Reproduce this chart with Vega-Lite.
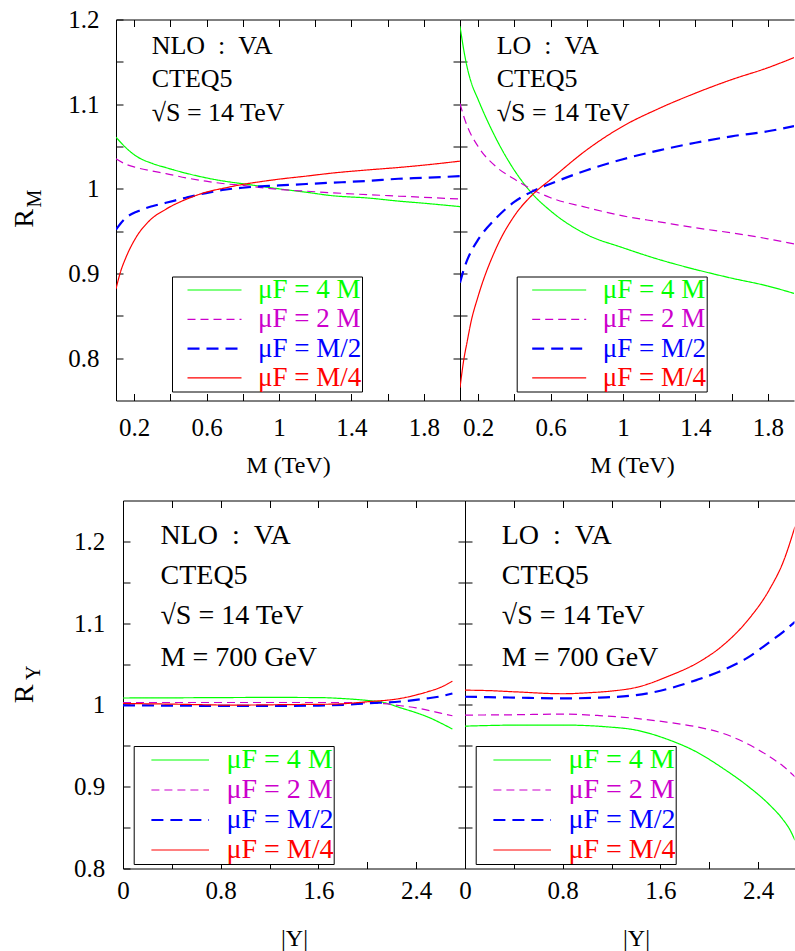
{
 "$schema": "https://vega.github.io/schema/vega-lite/v6.json",
 "padding": {"left": 10, "top": 7.5, "right": 0, "bottom": 0},
 "background": "white",
 "config": {
  "view": {"stroke": null},
  "style": {"guide-label": {"font": "Liberation Serif"}, "guide-title": {"font": "Liberation Serif"}},
  "axis": {"domainColor": "black", "domainWidth": 1, "tickColor": "black", "tickWidth": 1, "tickSize": -7, "grid": false,
   "labelFont": "Liberation Serif", "labelColor": "black", "labelFontSize": 25, "titleFont": "Liberation Serif", "titleColor": "black",
   "titleFontWeight": "normal", "titleFontSize": 24, "labelFlush": false, "labelOverlap": false, "labelBound": false},
  "legend": {"orient": "none", "symbolSize": 784, "labelFont": "Liberation Serif",
   "labelLimit": 0, "padding": 0, "strokeColor": "black", "fillColor": "white", "cornerRadius": 0, "symbolOpacity": 1},
  "text": {"font": "Liberation Serif", "color": "black"}
 },
 "datasets": {
  "nloM": [
   {"s":"4M","x":0.1,"y":1.061},{"s":"4M","x":0.155,"y":1.0485},{"s":"4M","x":0.209,"y":1.039},{"s":"4M","x":0.3,"y":1.03},{"s":"4M","x":0.376,"y":1.025},{"s":"4M","x":0.486,"y":1.0185},{"s":"4M","x":0.597,"y":1.013},{"s":"4M","x":0.7,"y":1.009},{"s":"4M","x":0.8,"y":1.006},{"s":"4M","x":0.9,"y":1.003},{"s":"4M","x":1.0,"y":1.0},{"s":"4M","x":1.15,"y":0.996},{"s":"4M","x":1.29,"y":0.992},{"s":"4M","x":1.5,"y":0.989},{"s":"4M","x":1.66,"y":0.9855},{"s":"4M","x":1.8,"y":0.983},{"s":"4M","x":2.0,"y":0.979},
   {"s":"2M","x":0.1,"y":1.0355},{"s":"2M","x":0.155,"y":1.029},{"s":"2M","x":0.214,"y":1.025},{"s":"2M","x":0.3,"y":1.021},{"s":"2M","x":0.376,"y":1.018},{"s":"2M","x":0.486,"y":1.013},{"s":"2M","x":0.597,"y":1.009},{"s":"2M","x":0.7,"y":1.006},{"s":"2M","x":0.8,"y":1.004},{"s":"2M","x":0.9,"y":1.0015},{"s":"2M","x":1.0,"y":0.9993},{"s":"2M","x":1.15,"y":0.9972},{"s":"2M","x":1.29,"y":0.9954},{"s":"2M","x":1.5,"y":0.993},{"s":"2M","x":1.66,"y":0.9914},{"s":"2M","x":1.8,"y":0.99},{"s":"2M","x":2.0,"y":0.988},
   {"s":"M/2","x":0.1,"y":0.952},{"s":"M/2","x":0.155,"y":0.9658},{"s":"M/2","x":0.22,"y":0.9735},{"s":"M/2","x":0.3,"y":0.9795},{"s":"M/2","x":0.376,"y":0.9835},{"s":"M/2","x":0.486,"y":0.9895},{"s":"M/2","x":0.597,"y":0.995},{"s":"M/2","x":0.7,"y":0.999},{"s":"M/2","x":0.8,"y":1.0013},{"s":"M/2","x":0.9,"y":1.003},{"s":"M/2","x":1.0,"y":1.004},{"s":"M/2","x":1.15,"y":1.0057},{"s":"M/2","x":1.29,"y":1.0072},{"s":"M/2","x":1.5,"y":1.0095},{"s":"M/2","x":1.66,"y":1.0119},{"s":"M/2","x":1.8,"y":1.013},{"s":"M/2","x":2.0,"y":1.015},
   {"s":"M/4","x":0.1,"y":0.882},{"s":"M/4","x":0.125,"y":0.902},{"s":"M/4","x":0.155,"y":0.919},{"s":"M/4","x":0.209,"y":0.942},{"s":"M/4","x":0.283,"y":0.962},{"s":"M/4","x":0.376,"y":0.976},{"s":"M/4","x":0.486,"y":0.9875},{"s":"M/4","x":0.597,"y":0.996},{"s":"M/4","x":0.7,"y":1.001},{"s":"M/4","x":0.8,"y":1.0052},{"s":"M/4","x":0.9,"y":1.0085},{"s":"M/4","x":1.0,"y":1.0114},{"s":"M/4","x":1.15,"y":1.015},{"s":"M/4","x":1.29,"y":1.0185},{"s":"M/4","x":1.5,"y":1.0225},{"s":"M/4","x":1.66,"y":1.0252},{"s":"M/4","x":1.8,"y":1.028},{"s":"M/4","x":2.0,"y":1.0327}
  ],
  "loM": [
   {"s":"4M","x":0.1,"y":1.192},{"s":"4M","x":0.12,"y":1.165},{"s":"4M","x":0.14,"y":1.143},{"s":"4M","x":0.16,"y":1.127},{"s":"4M","x":0.2,"y":1.1055},{"s":"4M","x":0.3,"y":1.059},{"s":"4M","x":0.4,"y":1.022},{"s":"4M","x":0.5,"y":0.994},{"s":"4M","x":0.6,"y":0.974},{"s":"4M","x":0.8,"y":0.946},{"s":"4M","x":1.0,"y":0.9304},{"s":"4M","x":1.2,"y":0.9165},{"s":"4M","x":1.4,"y":0.9048},{"s":"4M","x":1.6,"y":0.8945},{"s":"4M","x":1.8,"y":0.8852},{"s":"4M","x":1.945,"y":0.8765},
   {"s":"2M","x":0.1,"y":1.1008},{"s":"2M","x":0.12,"y":1.086},{"s":"2M","x":0.14,"y":1.074},{"s":"2M","x":0.2,"y":1.05},{"s":"2M","x":0.3,"y":1.026},{"s":"2M","x":0.4,"y":1.0115},{"s":"2M","x":0.5,"y":0.999},{"s":"2M","x":0.6,"y":0.9895},{"s":"2M","x":0.8,"y":0.978},{"s":"2M","x":1.0,"y":0.968},{"s":"2M","x":1.2,"y":0.961},{"s":"2M","x":1.4,"y":0.954},{"s":"2M","x":1.6,"y":0.948},{"s":"2M","x":1.8,"y":0.941},{"s":"2M","x":1.945,"y":0.935},
   {"s":"M/2","x":0.1,"y":0.889},{"s":"M/2","x":0.12,"y":0.904},{"s":"M/2","x":0.14,"y":0.916},{"s":"M/2","x":0.16,"y":0.9255},{"s":"M/2","x":0.2,"y":0.94},{"s":"M/2","x":0.3,"y":0.9655},{"s":"M/2","x":0.4,"y":0.9845},{"s":"M/2","x":0.5,"y":0.997},{"s":"M/2","x":0.6,"y":1.006},{"s":"M/2","x":0.8,"y":1.022},{"s":"M/2","x":1.0,"y":1.035},{"s":"M/2","x":1.2,"y":1.0455},{"s":"M/2","x":1.4,"y":1.0544},{"s":"M/2","x":1.6,"y":1.062},{"s":"M/2","x":1.8,"y":1.068},{"s":"M/2","x":1.945,"y":1.074},
   {"s":"M/4","x":0.1,"y":0.765},{"s":"M/4","x":0.12,"y":0.797},{"s":"M/4","x":0.14,"y":0.82},{"s":"M/4","x":0.16,"y":0.842},{"s":"M/4","x":0.2,"y":0.873},{"s":"M/4","x":0.3,"y":0.93},{"s":"M/4","x":0.4,"y":0.968},{"s":"M/4","x":0.5,"y":0.993},{"s":"M/4","x":0.6,"y":1.011},{"s":"M/4","x":0.8,"y":1.046},{"s":"M/4","x":1.0,"y":1.074},{"s":"M/4","x":1.2,"y":1.095},{"s":"M/4","x":1.4,"y":1.113},{"s":"M/4","x":1.6,"y":1.129},{"s":"M/4","x":1.8,"y":1.143},{"s":"M/4","x":1.945,"y":1.155}
  ],
  "nloY": [
   {"s":"4M","x":0,"y":1.0085},{"s":"4M","x":0.4,"y":1.0087},{"s":"4M","x":0.8,"y":1.009},{"s":"4M","x":1.2,"y":1.0092},{"s":"4M","x":1.6,"y":1.009},{"s":"4M","x":1.8,"y":1.0078},{"s":"4M","x":2.0,"y":1.0055},{"s":"4M","x":2.135,"y":1.003},{"s":"4M","x":2.272,"y":0.9965},{"s":"4M","x":2.4,"y":0.9905},{"s":"4M","x":2.5,"y":0.985},{"s":"4M","x":2.6,"y":0.978},{"s":"4M","x":2.697,"y":0.9705},
   {"s":"2M","x":0,"y":1.003},{"s":"2M","x":0.8,"y":1.003},{"s":"2M","x":1.6,"y":1.003},{"s":"2M","x":1.9,"y":1.0028},{"s":"2M","x":2.135,"y":1.0015},{"s":"2M","x":2.272,"y":0.999},{"s":"2M","x":2.4,"y":0.9965},{"s":"2M","x":2.491,"y":0.9937},{"s":"2M","x":2.6,"y":0.99},{"s":"2M","x":2.697,"y":0.9868},
   {"s":"M/2","x":0,"y":0.9995},{"s":"M/2","x":0.4,"y":0.9992},{"s":"M/2","x":0.8,"y":0.9988},{"s":"M/2","x":1.2,"y":0.9988},{"s":"M/2","x":1.6,"y":0.9992},{"s":"M/2","x":1.8,"y":1.0002},{"s":"M/2","x":2.0,"y":1.002},{"s":"M/2","x":2.272,"y":1.0042},{"s":"M/2","x":2.491,"y":1.008},{"s":"M/2","x":2.6,"y":1.0105},{"s":"M/2","x":2.697,"y":1.014},
   {"s":"M/4","x":0,"y":1.0018},{"s":"M/4","x":0.4,"y":1.001},{"s":"M/4","x":0.9,"y":0.9998},{"s":"M/4","x":1.4,"y":1.0005},{"s":"M/4","x":1.724,"y":1.001},{"s":"M/4","x":2.0,"y":1.0039},{"s":"M/4","x":2.272,"y":1.008},{"s":"M/4","x":2.491,"y":1.016},{"s":"M/4","x":2.6,"y":1.0215},{"s":"M/4","x":2.697,"y":1.029}
  ],
  "loY": [
   {"s":"4M","x":0,"y":0.9741},{"s":"4M","x":0.471,"y":0.9754},{"s":"4M","x":0.8,"y":0.9754},{"s":"4M","x":1.155,"y":0.9733},{"s":"4M","x":1.401,"y":0.9692},{"s":"4M","x":1.675,"y":0.957},{"s":"4M","x":1.894,"y":0.9427},{"s":"4M","x":2.113,"y":0.9224},{"s":"4M","x":2.305,"y":0.902},{"s":"4M","x":2.496,"y":0.8775},{"s":"4M","x":2.6,"y":0.8605},{"s":"4M","x":2.66,"y":0.8475},{"s":"4M","x":2.702,"y":0.8345},
   {"s":"2M","x":0,"y":0.9876},{"s":"2M","x":0.4,"y":0.988},{"s":"2M","x":0.8,"y":0.9888},{"s":"2M","x":1.1,"y":0.987},{"s":"2M","x":1.401,"y":0.9835},{"s":"2M","x":1.65,"y":0.979},{"s":"2M","x":1.894,"y":0.9733},{"s":"2M","x":2.113,"y":0.9652},{"s":"2M","x":2.305,"y":0.953},{"s":"2M","x":2.496,"y":0.9366},{"s":"2M","x":2.606,"y":0.925},{"s":"2M","x":2.702,"y":0.9122},
   {"s":"M/2","x":0,"y":1.01},{"s":"M/2","x":0.4,"y":1.009},{"s":"M/2","x":0.8,"y":1.008},{"s":"M/2","x":1.1,"y":1.009},{"s":"M/2","x":1.401,"y":1.012},{"s":"M/2","x":1.675,"y":1.0202},{"s":"M/2","x":1.894,"y":1.0304},{"s":"M/2","x":2.113,"y":1.0426},{"s":"M/2","x":2.305,"y":1.0569},{"s":"M/2","x":2.496,"y":1.0772},{"s":"M/2","x":2.606,"y":1.0894},{"s":"M/2","x":2.702,"y":1.1017},
   {"s":"M/4","x":0,"y":1.0181},{"s":"M/4","x":0.2,"y":1.0175},{"s":"M/4","x":0.416,"y":1.016},{"s":"M/4","x":0.8,"y":1.0137},{"s":"M/4","x":1.018,"y":1.015},{"s":"M/4","x":1.2,"y":1.017},{"s":"M/4","x":1.401,"y":1.0214},{"s":"M/4","x":1.675,"y":1.0357},{"s":"M/4","x":1.894,"y":1.0507},{"s":"M/4","x":2.113,"y":1.073},{"s":"M/4","x":2.305,"y":1.1017},{"s":"M/4","x":2.496,"y":1.142},{"s":"M/4","x":2.606,"y":1.175},{"s":"M/4","x":2.702,"y":1.218}
  ]
 },
 "spacing": 20,
 "resolve": {"scale": {"color": "independent", "strokeDash": "independent"}, "legend": {"color": "independent", "strokeDash": "independent"}},
 "vconcat": [
  {
   "spacing": 0,
   "bounds": "flush",
   "resolve": {"scale": {"color": "independent", "strokeDash": "independent"}, "legend": {"color": "independent", "strokeDash": "independent"}},
   "hconcat": [
    {"width": 1, "height": 1, "data": {"values": [{"a": 0}]}, "mark": {"type": "point", "opacity": 0}, "encoding": {}},
    {
     "width": 344, "height": 381,
     "data": {"name": "nloM"},
     "layer": [
      {"mark": {"type": "line", "clip": true, "interpolate": "monotone"},
       "encoding": {
        "x": {"field": "x", "type": "quantitative", "scale": {"domain": [0.1, 2.0], "nice": false, "zero": false},
         "axis": {"orient": "bottom", "values": [0.2,0.4,0.6,0.8,1,1.2,1.4,1.6,1.8], "format": "~g", "labelExpr": "round(datum.value*10)%4==2 ? datum.label : ''", "labelBaseline": "alphabetic", "labelPadding": 41.7, "title": "M (TeV)", "titleX": 172, "titleY": 72, "titleBaseline": "alphabetic", "titleAlign": "center"}},
        "y": {"field": "y", "type": "quantitative", "scale": {"domain": [0.75, 1.2], "nice": false, "zero": false},
         "axis": {"orient": "left", "values": [0.8,0.85,0.9,0.95,1,1.05,1.1,1.15,1.2], "format": "~g", "labelExpr": "round(datum.value*20)%2==0 ? datum.label : ''", "labelPadding": 24, "title": "R", "titleX": -84, "titleY": 198.5, "titleAngle": 270, "titleBaseline": "alphabetic", "titleAlign": "center", "titleFontSize": 28}},
        "color": {"field": "s", "type": "nominal", "scale": {"domain": ["4M","2M","M/2","M/4"], "range": ["#00ff00","#cc00cc","#0000ff","#ff0000"]},
         "legend": {"title": null, "legendX": 56, "legendY": 257, "symbolType": "M0.143,0H4", "labelOffset": 59, "labelFont": "Liberation Serif", "labelFontSize": 27, "rowPadding": 1.3, "labelExpr": "datum.value == '4M' ? 'μF = 4 M' : datum.value == '2M' ? 'μF = 2 M' : datum.value == 'M/2' ? 'μF = M/2' : 'μF = M/4'", "labelColor": {"expr": "datum.value == '4M' ? '#00ff00' : datum.value == '2M' ? '#cc00cc' : datum.value == 'M/2' ? '#0000ff' : '#ff0000'"}, "symbolStrokeWidth": {"expr": "datum.value == 'M/2' ? 2.2 : 1.2"}}},
        "strokeDash": {"field": "s", "type": "nominal", "scale": {"domain": ["4M","2M","M/2","M/4"], "range": [[1,0],[8,5],[12,7],[1,0]]}, "legend": {"title": null, "legendX": 56, "legendY": 257}},
        "strokeWidth": {"condition": {"test": "datum.s == 'M/2'", "value": 2.2}, "value": 1.2}
       }},
      {"mark": {"type": "point", "opacity": 0},
       "encoding": {
        "x": {"field": "x", "type": "quantitative", "axis": {"orient": "top", "values": [0.2,0.4,0.6,0.8,1,1.2,1.4,1.6,1.8], "labels": false, "title": null}},
        "y": {"field": "y", "type": "quantitative", "axis": {"orient": "right", "values": [0.8,0.85,0.9,0.95,1,1.05,1.1,1.15], "labels": false, "title": "M", "titleX": -420, "titleY": 178.5, "titleAngle": 270, "titleBaseline": "alphabetic", "titleAlign": "center", "titleFontSize": 20}}
       }},
      {"data": {"values": [{"x": 0.297, "y": 1.1598, "t": "NLO\u00a0\u00a0:\u00a0\u00a0VA"}, {"x": 0.297, "y": 1.1197, "t": "CTEQ5"}, {"x": 0.297, "y": 1.0799, "t": "√S = 14 TeV"}]},
       "mark": {"type": "text", "align": "left", "baseline": "alphabetic", "fontSize": 26, "font": "Liberation Serif"},
       "encoding": {"x": {"field": "x", "type": "quantitative", "axis": null}, "y": {"field": "y", "type": "quantitative", "axis": null}, "text": {"field": "t"}}}
     ],
     "resolve": {"axis": {"x": "independent", "y": "independent"}}
    },
    {
     "width": 334, "height": 381,
     "data": {"name": "loM"},
     "layer": [
      {"mark": {"type": "line", "clip": true, "interpolate": "monotone"},
       "encoding": {
        "x": {"field": "x", "type": "quantitative", "scale": {"domain": [0.1, 1.9448], "nice": false, "zero": false},
         "axis": {"orient": "bottom", "values": [0.2,0.4,0.6,0.8,1,1.2,1.4,1.6,1.8], "format": "~g", "labelExpr": "round(datum.value*10)%4==2 ? datum.label : ''", "labelBaseline": "alphabetic", "labelPadding": 41.7, "title": "M (TeV)", "titleX": 172, "titleY": 72, "titleBaseline": "alphabetic", "titleAlign": "center"}},
        "y": {"field": "y", "type": "quantitative", "scale": {"domain": [0.75, 1.2], "nice": false, "zero": false},
         "axis": {"orient": "left", "values": [0.8,0.85,0.9,0.95,1,1.05,1.1,1.15], "labels": false, "title": null}},
        "color": {"field": "s", "type": "nominal", "scale": {"domain": ["4M","2M","M/2","M/4"], "range": ["#00ff00","#cc00cc","#0000ff","#ff0000"]},
         "legend": {"title": null, "legendX": 56.7, "legendY": 257, "symbolType": "M0.143,0H4", "labelOffset": 59, "labelFont": "Liberation Serif", "labelFontSize": 27, "rowPadding": 1.3, "labelExpr": "datum.value == '4M' ? 'μF = 4 M' : datum.value == '2M' ? 'μF = 2 M' : datum.value == 'M/2' ? 'μF = M/2' : 'μF = M/4'", "labelColor": {"expr": "datum.value == '4M' ? '#00ff00' : datum.value == '2M' ? '#cc00cc' : datum.value == 'M/2' ? '#0000ff' : '#ff0000'"}, "symbolStrokeWidth": {"expr": "datum.value == 'M/2' ? 2.2 : 1.2"}}},
        "strokeDash": {"field": "s", "type": "nominal", "scale": {"domain": ["4M","2M","M/2","M/4"], "range": [[1,0],[8,5],[12,7],[1,0]]}, "legend": {"title": null, "legendX": 56.7, "legendY": 257}},
        "strokeWidth": {"condition": {"test": "datum.s == 'M/2'", "value": 2.2}, "value": 1.2}
       }},
      {"mark": {"type": "point", "opacity": 0},
       "encoding": {
        "x": {"field": "x", "type": "quantitative", "axis": {"orient": "top", "values": [0.2,0.4,0.6,0.8,1,1.2,1.4,1.6,1.8], "labels": false, "title": null}},
        "y": {"field": "y", "type": "quantitative", "axis": null}
       }},
      {"data": {"values": [{"x": 0.3027, "y": 1.1598, "t": "LO\u00a0\u00a0:\u00a0\u00a0VA"}, {"x": 0.3027, "y": 1.1197, "t": "CTEQ5"}, {"x": 0.3027, "y": 1.0799, "t": "√S = 14 TeV"}]},
       "mark": {"type": "text", "align": "left", "baseline": "alphabetic", "fontSize": 26, "font": "Liberation Serif"},
       "encoding": {"x": {"field": "x", "type": "quantitative", "axis": null}, "y": {"field": "y", "type": "quantitative", "axis": null}, "text": {"field": "t"}}}
     ],
     "resolve": {"axis": {"x": "independent", "y": "independent"}}
    }
   ]
  },
  {
   "spacing": 0,
   "bounds": "flush",
   "resolve": {"scale": {"color": "independent", "strokeDash": "independent"}, "legend": {"color": "independent", "strokeDash": "independent"}},
   "hconcat": [
    {"width": 7.3, "height": 1, "data": {"values": [{"a": 0}]}, "mark": {"type": "point", "opacity": 0}, "encoding": {}},
    {
     "width": 342, "height": 368,
     "data": {"name": "nloY"},
     "layer": [
      {"mark": {"type": "line", "clip": true, "interpolate": "monotone"},
       "encoding": {
        "x": {"field": "x", "type": "quantitative", "scale": {"domain": [0, 2.8], "nice": false, "zero": false},
         "axis": {"orient": "bottom", "values": [0,0.4,0.8,1.2,1.6,2,2.4], "format": "~g", "labelExpr": "round(datum.value*10)%8==0 ? datum.label : ''", "labelBaseline": "alphabetic", "labelPadding": 37, "title": "|Y|", "titleX": 171, "titleY": 77, "titleBaseline": "alphabetic", "titleAlign": "center"}},
        "y": {"field": "y", "type": "quantitative", "scale": {"domain": [0.8, 1.25], "nice": false, "zero": false},
         "axis": {"orient": "left", "values": [0.8,0.85,0.9,0.95,1,1.05,1.1,1.15,1.2], "format": "~g", "labelExpr": "round(datum.value*20)%2==0 ? datum.label : ''", "labelPadding": 25.3, "title": "R", "titleX": -90.3, "titleY": 192.8, "titleAngle": 270, "titleBaseline": "alphabetic", "titleAlign": "center", "titleFontSize": 28}},
        "color": {"field": "s", "type": "nominal", "scale": {"domain": ["4M","2M","M/2","M/4"], "range": ["#00ff00","#cc00cc","#0000ff","#ff0000"]},
         "legend": {"title": null, "legendX": 10.7, "legendY": 245.5, "symbolType": "M0.264,0H4.38", "labelOffset": 64.7, "labelFont": "Liberation Serif", "labelFontSize": 28, "rowPadding": 2, "labelExpr": "datum.value == '4M' ? 'μF = 4 M' : datum.value == '2M' ? 'μF = 2 M' : datum.value == 'M/2' ? 'μF = M/2' : 'μF = M/4'", "labelColor": {"expr": "datum.value == '4M' ? '#00ff00' : datum.value == '2M' ? '#cc00cc' : datum.value == 'M/2' ? '#0000ff' : '#ff0000'"}, "symbolStrokeWidth": {"expr": "datum.value == 'M/2' ? 2.2 : 1.2"}}},
        "strokeDash": {"field": "s", "type": "nominal", "scale": {"domain": ["4M","2M","M/2","M/4"], "range": [[1,0],[8,5],[12,7],[1,0]]}, "legend": {"title": null, "legendX": 10.7, "legendY": 245.5}},
        "strokeWidth": {"condition": {"test": "datum.s == 'M/2'", "value": 2.2}, "value": 1.2}
       }},
      {"mark": {"type": "point", "opacity": 0},
       "encoding": {
        "x": {"field": "x", "type": "quantitative", "axis": {"orient": "top", "values": [0.4,0.8,1.2,1.6,2,2.4], "labels": false, "title": null}},
        "y": {"field": "y", "type": "quantitative", "axis": {"orient": "right", "values": [0.85,0.9,0.95,1,1.05,1.1,1.15,1.2], "labels": false, "title": "Y", "titleX": -425.3, "titleY": 171.8, "titleAngle": 270, "titleBaseline": "alphabetic", "titleAlign": "center", "titleFontSize": 20}}
       }},
      {"data": {"values": [{"x": 0.307, "y": 1.1974, "t": "NLO\u00a0\u00a0:\u00a0\u00a0VA"}, {"x": 0.307, "y": 1.1485, "t": "CTEQ5"}, {"x": 0.307, "y": 1.0984, "t": "√S = 14 TeV"}, {"x": 0.307, "y": 1.0479, "t": "M = 700 GeV"}]},
       "mark": {"type": "text", "align": "left", "baseline": "alphabetic", "fontSize": 28, "font": "Liberation Serif"},
       "encoding": {"x": {"field": "x", "type": "quantitative", "axis": null}, "y": {"field": "y", "type": "quantitative", "axis": null}, "text": {"field": "t"}}}
     ],
     "resolve": {"axis": {"x": "independent", "y": "independent"}}
    },
    {
     "width": 329.5, "height": 368,
     "data": {"name": "loY"},
     "layer": [
      {"mark": {"type": "line", "clip": true, "interpolate": "monotone"},
       "encoding": {
        "x": {"field": "x", "type": "quantitative", "scale": {"domain": [0, 2.698], "nice": false, "zero": false},
         "axis": {"orient": "bottom", "values": [0,0.4,0.8,1.2,1.6,2,2.4], "format": "~g", "labelExpr": "round(datum.value*10)%8==0 ? datum.label : ''", "labelBaseline": "alphabetic", "labelPadding": 37, "title": "|Y|", "titleX": 171, "titleY": 77, "titleBaseline": "alphabetic", "titleAlign": "center"}},
        "y": {"field": "y", "type": "quantitative", "scale": {"domain": [0.8, 1.25], "nice": false, "zero": false},
         "axis": {"orient": "left", "values": [0.85,0.9,0.95,1,1.05,1.1,1.15,1.2], "labels": false, "title": null}},
        "color": {"field": "s", "type": "nominal", "scale": {"domain": ["4M","2M","M/2","M/4"], "range": ["#00ff00","#cc00cc","#0000ff","#ff0000"]},
         "legend": {"title": null, "legendX": 10.7, "legendY": 245.5, "symbolType": "M0.264,0H4.38", "labelOffset": 64.7, "labelFont": "Liberation Serif", "labelFontSize": 28, "rowPadding": 2, "labelExpr": "datum.value == '4M' ? 'μF = 4 M' : datum.value == '2M' ? 'μF = 2 M' : datum.value == 'M/2' ? 'μF = M/2' : 'μF = M/4'", "labelColor": {"expr": "datum.value == '4M' ? '#00ff00' : datum.value == '2M' ? '#cc00cc' : datum.value == 'M/2' ? '#0000ff' : '#ff0000'"}, "symbolStrokeWidth": {"expr": "datum.value == 'M/2' ? 2.2 : 1.2"}}},
        "strokeDash": {"field": "s", "type": "nominal", "scale": {"domain": ["4M","2M","M/2","M/4"], "range": [[1,0],[8,5],[12,7],[1,0]]}, "legend": {"title": null, "legendX": 10.7, "legendY": 245.5}},
        "strokeWidth": {"condition": {"test": "datum.s == 'M/2'", "value": 2.2}, "value": 1.2}
       }},
      {"mark": {"type": "point", "opacity": 0},
       "encoding": {
        "x": {"field": "x", "type": "quantitative", "axis": {"orient": "top", "values": [0.4,0.8,1.2,1.6,2,2.4], "labels": false, "title": null}},
        "y": {"field": "y", "type": "quantitative", "axis": null}
       }},
      {"data": {"values": [{"x": 0.301, "y": 1.1974, "t": "LO\u00a0\u00a0:\u00a0\u00a0VA"}, {"x": 0.301, "y": 1.1485, "t": "CTEQ5"}, {"x": 0.301, "y": 1.0984, "t": "√S = 14 TeV"}, {"x": 0.301, "y": 1.0479, "t": "M = 700 GeV"}]},
       "mark": {"type": "text", "align": "left", "baseline": "alphabetic", "fontSize": 28, "font": "Liberation Serif"},
       "encoding": {"x": {"field": "x", "type": "quantitative", "axis": null}, "y": {"field": "y", "type": "quantitative", "axis": null}, "text": {"field": "t"}}}
     ],
     "resolve": {"axis": {"x": "independent", "y": "independent"}}
    }
   ]
  }
 ]
}
